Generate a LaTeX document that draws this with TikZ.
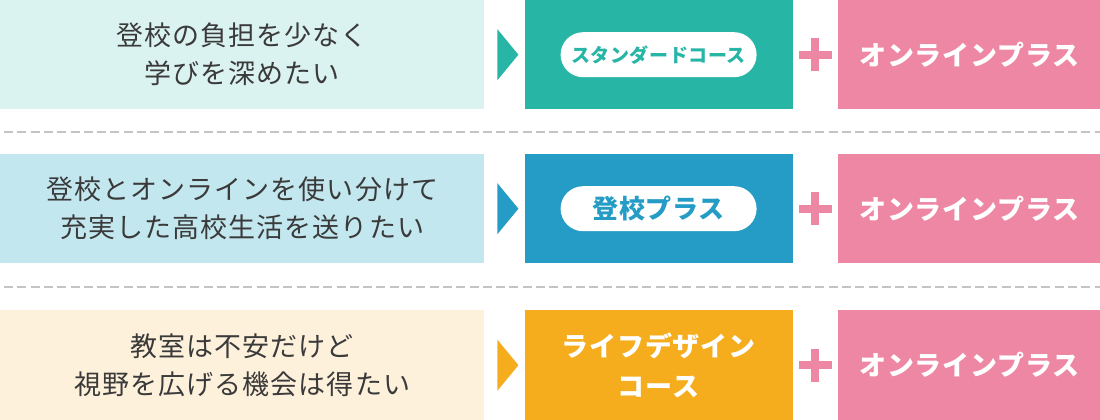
\documentclass[tikz,border=0pt]{standalone}
\usepackage{fontspec}
\usetikzlibrary{positioning,shapes.misc}
\newfontfamily\jpfont[LetterSpace=4]{Noto Sans CJK JP}
\newfontfamily\jpbold[LetterSpace=3]{Noto Sans CJK JP}
\definecolor{mintbg}{HTML}{DBF3F0}
\definecolor{skybg}{HTML}{C3E7EF}
\definecolor{creambg}{HTML}{FEF1DC}
\definecolor{mint}{HTML}{27B5A6}
\definecolor{sky}{HTML}{259CC5}
\definecolor{amber}{HTML}{F5AD1E}
\definecolor{rose}{HTML}{EE87A3}
\definecolor{ink}{HTML}{3A3A3A}
\definecolor{dashgray}{HTML}{C4C4C4}
% plus mark between two boxes
\newcommand{\plusmark}[1]{%
  \fill[rose] ([xshift=-16.5pt,yshift=4pt]#1) rectangle ++(33,8);
  \fill[rose] ([xshift=-4pt,yshift=16.5pt]#1) rectangle ++(8,33);}

\begin{document}
\begin{tikzpicture}[
  x=1pt, y=-1pt,
  want/.style={anchor=north west, minimum width=484pt, minimum height=109pt, inner sep=0pt, align=center, text=ink, font=\jpfont\fontsize{27}{38}\selectfont},
  course/.style={minimum width=268pt, minimum height=109pt, inner sep=0pt, align=center, text=white, font=\jpbold\bfseries\fontsize{27}{40}\selectfont},
  online/.style={course, fill=rose, minimum width=263pt},
  pill/.style={rounded rectangle, fill=white, minimum width=196pt, minimum height=45pt, inner sep=0pt, font=\jpbold\bfseries\fontsize{19}{24}\selectfont},
  sep/.style={draw=dashgray, line width=2pt, dash pattern=on 9pt off 4.3pt}
]
\useasboundingbox (0,0) rectangle (1100,420);

% row 1
\node[want, fill=mintbg] (want1) at (0,0) {登校の負担を少なく\\学びを深めたい};
\node[course, fill=mint, right=40pt of want1] (course1) {};
\node[pill, text=mint] (pill1) at (course1) {スタンダードコース};
\node[online, right=45pt of course1] (online1) {オンラインプラス};

% row 2
\node[want, fill=skybg] (want2) at (0,154) {登校とオンラインを使い分けて\\充実した高校生活を送りたい};
\node[course, fill=sky, right=40pt of want2] (course2) {};
\node[pill, text=sky, font=\jpbold\bfseries\fontsize{26}{30}\selectfont] (pill2) at (course2) {登校プラス};
\node[online, right=45pt of course2] (online2) {オンラインプラス};

% row 3
\node[want, fill=creambg, minimum height=110pt] (want3) at (0,310) {教室は不安だけど\\視野を広げる機会は得たい};
\node[course, fill=amber, minimum height=110pt, right=40pt of want3] (course3) {ライフデザイン\\コース};
\node[online, minimum height=110pt, right=45pt of course3] (online3) {オンラインプラス};

% pointers
\fill[mint] ([xshift=13pt]want1.east) ++(0,-25.5) -- ++(21,25.5) -- ++(-21,25.5) -- cycle;
\fill[sky] ([xshift=13pt]want2.east) ++(0,-25.5) -- ++(21,25.5) -- ++(-21,25.5) -- cycle;
\fill[amber] ([xshift=13pt]want3.east) ++(0,-25.5) -- ++(21,25.5) -- ++(-21,25.5) -- cycle;

% plus marks
\path (course1.east) -- coordinate[pos=.5] (plus1) (online1.west);
\path (course2.east) -- coordinate[pos=.5] (plus2) (online2.west);
\path (course3.east) -- coordinate[pos=.5] (plus3) (online3.west);
\plusmark{plus1}
\plusmark{plus2}
\plusmark{plus3}

% separators
\draw[sep] (4,132) -- (1100,132);
\draw[sep] (4,287) -- (1100,287);
\end{tikzpicture}
\end{document}
